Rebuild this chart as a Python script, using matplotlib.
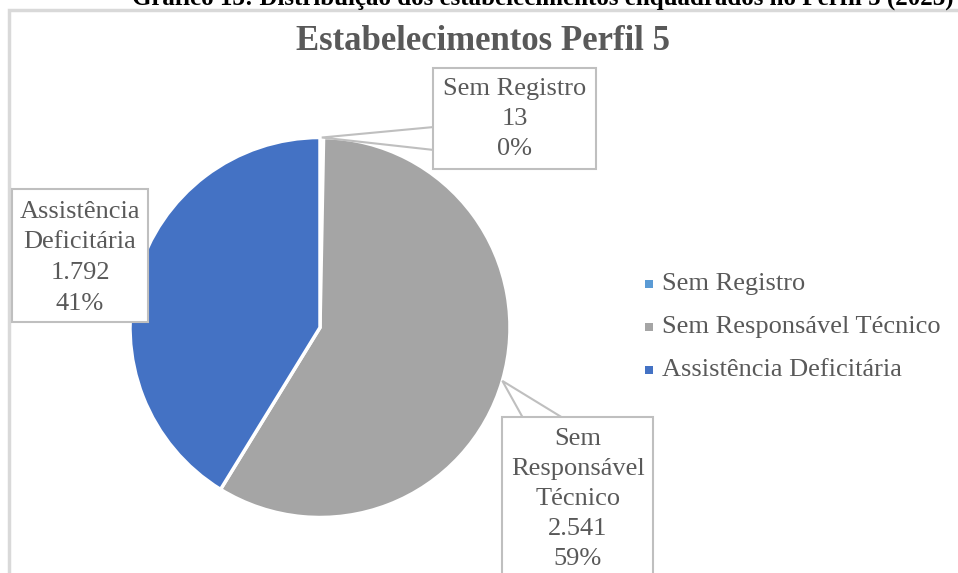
import matplotlib
matplotlib.use("Agg")
import matplotlib.pyplot as plt
from matplotlib.patches import Rectangle, Polygon
import numpy as np

# ---- data ----
categories = ["Sem Registro", "Sem Responsável Técnico", "Assistência Deficitária"]
values = [13, 2541, 1792]
value_labels = ["13", "2.541", "1.792"]
pct_labels = ["0%", "59%", "41%"]
label_names = ["Sem Registro", "Sem\nResponsável\nTécnico", "Assistência\nDeficitária"]
colors = ["#5B9BD5", "#A5A5A5", "#4472C4"]
title = "Estabelecimentos Perfil 5"
caption = "Gráfico 13: Distribuição dos estabelecimentos enquadrados no Perfil 5 (2023)"

W, H = 958, 573
SERIF = ["Liberation Serif", "DejaVu Serif"]
GRAY_TXT = "#595959"
BOX_EDGE = "#BFBFBF"

fig = plt.figure(figsize=(W / 100, H / 100), dpi=100)
ax = fig.add_axes([0, 0, 1, 1])

def Y(y):
    return H - y

# chart frame
ax.add_patch(Rectangle((9.5, Y(600)), 1000, 600 - 9.5, facecolor="white",
                       edgecolor="#D9D9D9", linewidth=2.5, zorder=0))

# pie
cx, cy, r = 320, Y(327.5), 190
wedges, _ = ax.pie(values, colors=colors, startangle=90, counterclock=False,
                   center=(cx, cy), radius=r,
                   wedgeprops=dict(edgecolor="white", linewidth=2.5))
for w in wedges:
    w.set_zorder(2)

ax.set_xlim(0, W)
ax.set_ylim(0, H)
ax.set_aspect("auto")
ax.axis("off")

def anchor(i):
    w = wedges[i]
    a = np.deg2rad((w.theta1 + w.theta2) / 2)
    return cx + r * np.cos(a), cy + r * np.sin(a)

fs = 19

def box(x0, y0, x1, y1):
    ax.add_patch(Rectangle((x0, Y(y1)), x1 - x0, y1 - y0, facecolor="white",
                           edgecolor=BOX_EDGE, linewidth=1.5, zorder=5))

# Sem Registro label
ax0 = anchor(0)
ax.add_patch(Polygon([ax0, (434, Y(127)), (434, Y(150))], closed=True,
                     facecolor="white", edgecolor=BOX_EDGE, linewidth=1.5, zorder=4))
box(433, 68, 596, 169)
lines0 = [label_names[0], value_labels[0], pct_labels[0]]
for k, t in enumerate(lines0):
    ax.text(515, Y(89 + 30 * k), t, ha="center", va="center", fontsize=fs,
            family=SERIF, color=GRAY_TXT, zorder=6)

# Sem Responsável Técnico label
a1 = anchor(1)
ax.add_patch(Polygon([a1, (523, Y(418)), (563, Y(418))], closed=True,
                     facecolor="white", edgecolor=BOX_EDGE, linewidth=1.5, zorder=4))
box(502, 417, 653, 590)
lines1 = label_names[1].split("\n") + [value_labels[1], pct_labels[1]]
for k, t in enumerate(lines1):
    ax.text(578, Y(439 + 30 * k), t, ha="center", va="center", fontsize=fs,
            family=SERIF, color=GRAY_TXT, zorder=6)

# Assistência Deficitária label
box(12, 189, 148, 322)
lines2 = label_names[2].split("\n") + [value_labels[2], pct_labels[2]]
for k, t in enumerate(lines2):
    ax.text(80, Y(212 + 30.5 * k), t, ha="center", va="center", fontsize=fs,
            family=SERIF, color=GRAY_TXT, zorder=6)

# title
ax.text(483, Y(42), title, ha="center", va="center", fontsize=25, fontweight="bold",
        family=SERIF, color=GRAY_TXT, zorder=6)

# caption (cut off at top)
ax.text(543, Y(5), caption, ha="center", va="baseline", fontsize=18, fontweight="bold",
        family=SERIF, color="black", zorder=6)

# legend
leg_y = [284, 327, 370]
for i, cat in enumerate(categories):
    ax.add_patch(Rectangle((645, Y(leg_y[i]) - 4), 8, 8, facecolor=colors[i],
                           edgecolor="none", zorder=6))
    ax.text(662, Y(leg_y[i]), cat, ha="left", va="center", fontsize=fs,
            family=SERIF, color=GRAY_TXT, zorder=6)

fig.savefig("out.png", dpi=100)
